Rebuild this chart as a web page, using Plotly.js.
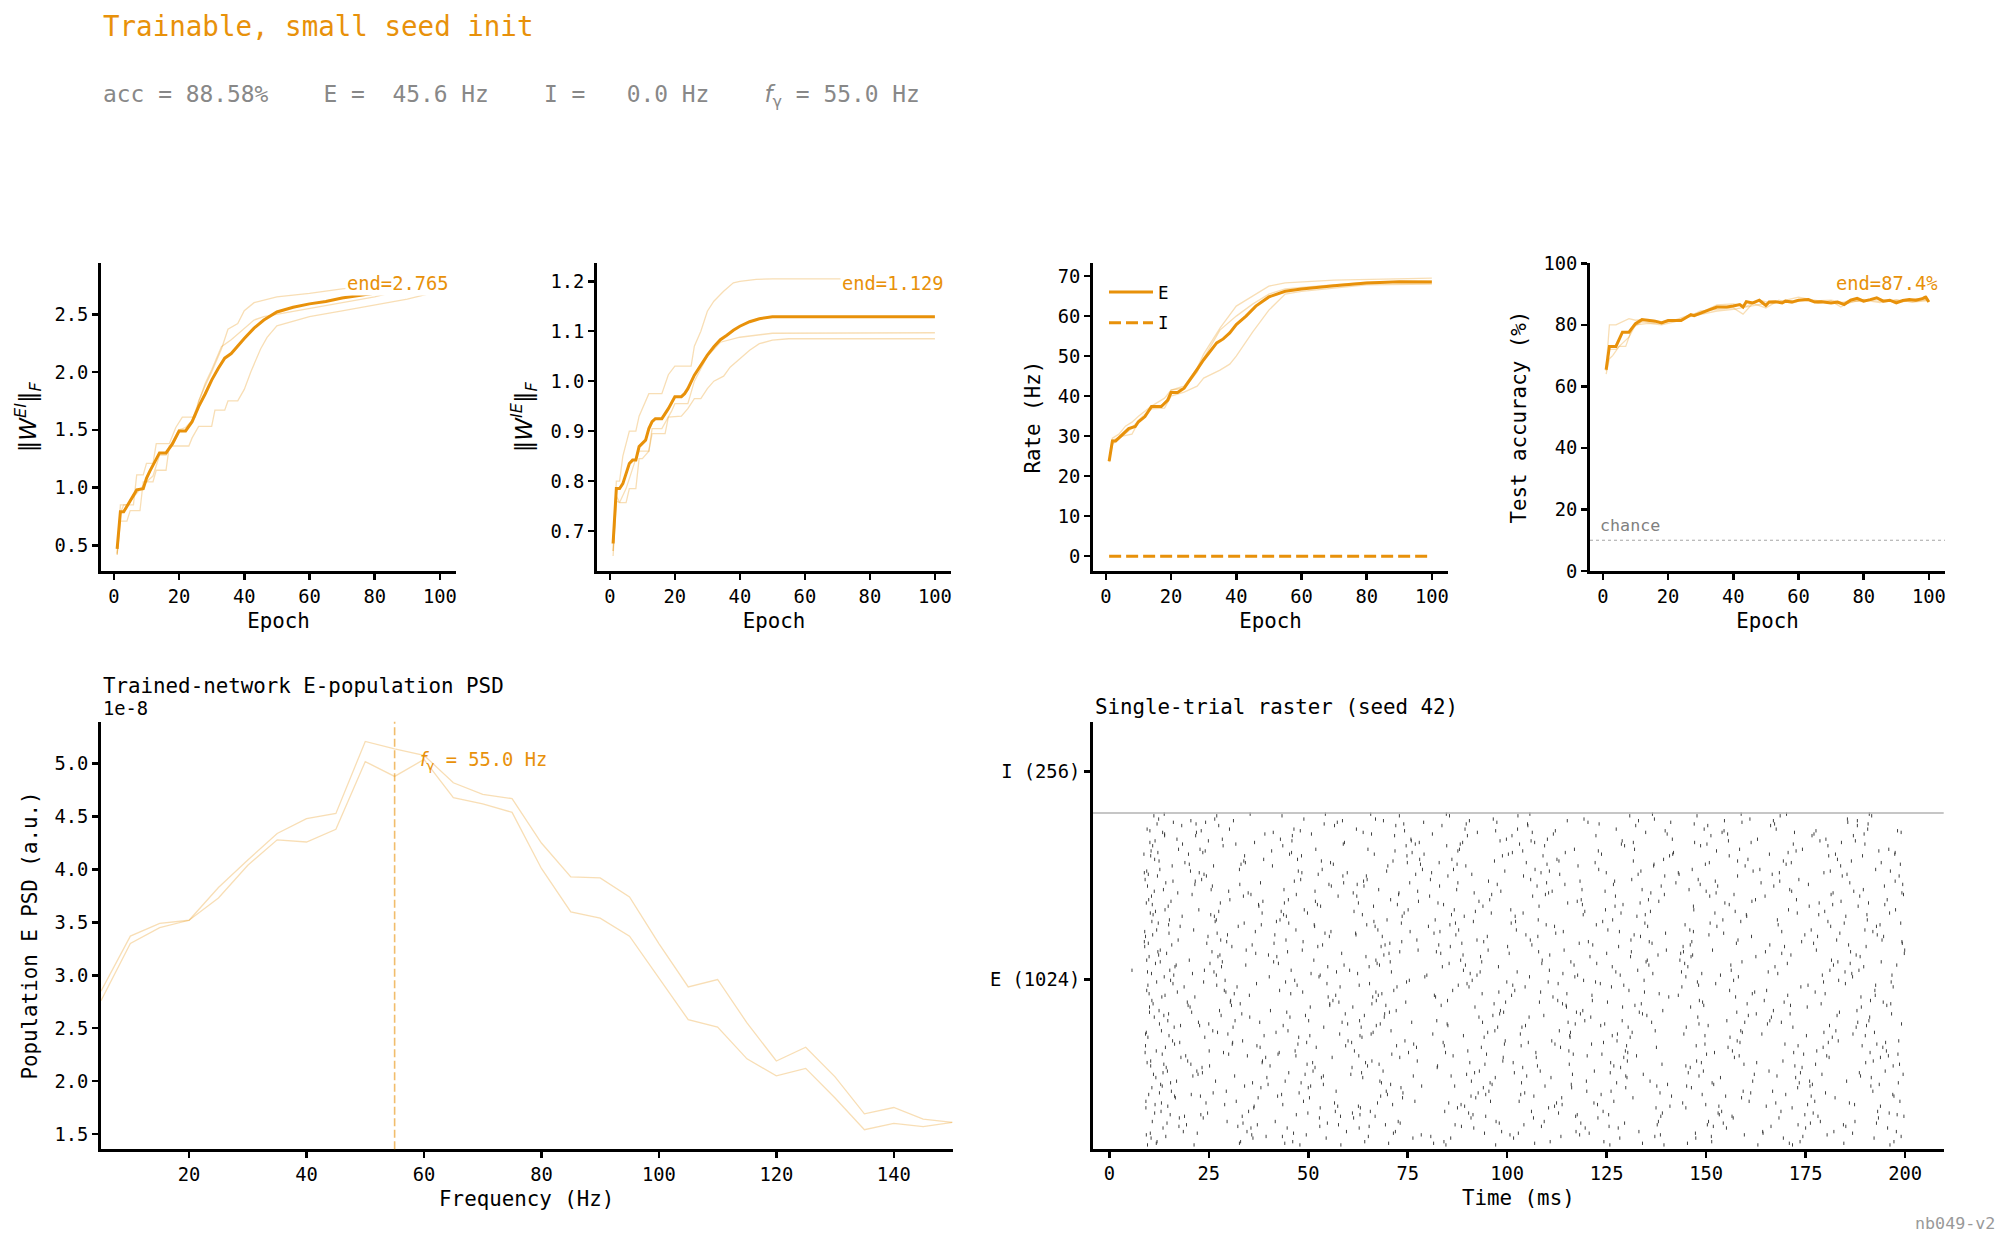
<!DOCTYPE html>
<html><head><meta charset="utf-8">
<script src="https://cdn.plot.ly/plotly-3.0.1.min.js"></script>
<style>html,body{margin:0;padding:0;background:#fff}#chart{width:2009px;height:1247px}</style>
</head><body><div id="chart"></div>
<script>
// ---------------- data ----------------
// Panel 1: ||W_EI||_F per epoch
const weiMeanX = [1,2,3,5,7,9,10,11,13,14,16,18,20,22,24,26,28,30,32,34,36,38,40,43,46,50,55,60,65,70,75,80,85,90,95,100];
const weiMeanY = [0.47,0.79,0.79,0.89,0.98,0.99,1.08,1.14,1.25,1.30,1.30,1.38,1.49,1.49,1.57,1.70,1.81,1.93,2.03,2.12,2.16,2.23,2.29,2.38,2.45,2.52,2.56,2.59,2.61,2.64,2.66,2.68,2.70,2.72,2.74,2.765];
const weiSeedAX = [1,2,3,6,7,9,10,12,13,17,19,21,25,26,28,30,33,35,38,40,43,46,50,60,70,80,90,100];
const weiSeedAY = [0.42,0.78,0.85,0.85,1.11,1.11,1.21,1.21,1.38,1.38,1.52,1.61,1.61,1.75,1.88,2.00,2.20,2.37,2.42,2.53,2.60,2.62,2.65,2.68,2.72,2.75,2.77,2.79];
const weiSeedBX = [1,2,4,6,8,10,12,14,16,18,20,22,24,26,28,30,33,36,40,43,46,50,55,60,70,80,90,100];
const weiSeedBY = [0.43,0.85,0.85,0.92,0.99,1.05,1.10,1.28,1.28,1.40,1.50,1.52,1.58,1.75,1.90,2.02,2.22,2.28,2.38,2.45,2.48,2.50,2.52,2.55,2.60,2.65,2.72,2.75];
const weiSeedCX = [1,2,4,5,8,9,12,13,16,17,23,24,26,30,31,34,35,38,40,42,45,47,50,55,60,70,80,90,100];
const weiSeedCY = [0.42,0.71,0.71,0.80,0.80,1.05,1.05,1.15,1.15,1.36,1.36,1.43,1.53,1.53,1.67,1.67,1.75,1.75,1.85,2.00,2.20,2.30,2.40,2.44,2.48,2.53,2.58,2.63,2.70];

// Panel 2: ||W_IE||_F per epoch
const wieMeanX = [1,2,3,4,6,7,8,9,11,12,13,14,16,17,18,20,22,23,24,26,28,30,32,34,36,38,40,43,46,50,100];
const wieMeanY = [0.675,0.785,0.785,0.795,0.835,0.842,0.842,0.869,0.882,0.905,0.919,0.925,0.925,0.935,0.945,0.969,0.969,0.975,0.985,1.012,1.032,1.052,1.069,1.083,1.092,1.102,1.110,1.119,1.125,1.129,1.129];
const wieSeedAX = [1,2,3,4,6,8,9,12,16,18,20,25,26,28,30,32,35,38,40,45,50,100];
const wieSeedAY = [0.66,0.80,0.80,0.85,0.90,0.90,0.93,0.975,0.975,1.013,1.03,1.03,1.07,1.10,1.14,1.16,1.18,1.197,1.20,1.204,1.205,1.205];
const wieSeedBX = [1,2,3,5,8,9,12,13,16,19,20,24,26,30,34,40,50,100];
const wieSeedBY = [0.66,0.77,0.757,0.785,0.845,0.86,0.86,0.905,0.905,0.94,0.955,0.955,1.00,1.05,1.078,1.088,1.096,1.097];
const wieSeedCX = [1,2,3,5,6,8,9,10,12,13,17,18,22,24,26,28,30,32,35,37,40,43,46,50,55,100];
const wieSeedCY = [0.65,0.76,0.757,0.757,0.785,0.785,0.845,0.845,0.86,0.895,0.895,0.928,0.93,0.945,0.965,0.965,0.985,1.0,1.01,1.028,1.045,1.062,1.075,1.082,1.085,1.085];

// Panel 3: firing rate (Hz)
const rateEX = [1,2,3,5,7,9,10,12,14,17,19,20,22,24,26,28,30,32,34,36,38,40,43,46,50,55,60,70,80,90,100];
const rateEY = [23.7,28.8,28.8,30.3,31.9,32.4,33.6,34.9,37.4,37.4,39.0,40.9,40.9,42.0,44.5,46.7,49.1,51.2,53.3,54.3,55.8,57.9,60.0,62.5,64.8,66.2,66.8,67.6,68.3,68.6,68.5];
const rateSeedAX = [1,2,4,6,8,10,14,18,20,24,28,30,35,40,45,50,55,70,100];
const rateSeedAY = [23.5,29.5,30.5,32.5,33.5,35.0,37.5,39.5,41.5,42.5,47.0,50.5,57.0,62.5,65.0,67.5,68.3,69.0,69.5];
const rateSeedBX = [1,2,5,8,10,14,18,20,24,28,30,35,40,45,50,55,60,80,100];
const rateSeedBY = [24.0,29.0,30.0,32.0,34.0,37.0,38.0,41.5,42.0,46.0,49.5,56.5,60.0,63.0,65.5,66.8,67.2,68.5,68.8];
const rateSeedCX = [1,2,5,8,10,14,18,20,24,28,30,35,38,40,45,50,55,60,80,100];
const rateSeedCY = [23.8,28.0,30.0,30.5,33.5,36.8,37.0,40.0,41.0,42.5,44.5,46.5,48.0,50.0,56.0,61.5,65.5,66.2,67.8,68.0];
const rateIX = [1,100];
const rateIY = [0,0];

// Panel 4: test accuracy (%)
const accX = [1,2,4,6,8,10,12,14,16,18,20,24,26,27,28,30,33,35,38,40,42,43,44,46,48,50,51,53,55,56,58,60,63,65,67,70,72,74,76,78,80,82,84,86,88,90,92,94,96,98,99,100];
const accY = [65.4,73.0,73.0,77.6,77.6,80.4,81.7,81.4,81.2,80.6,81.4,81.4,82.5,83.3,83.0,83.9,85.0,85.8,85.8,86.1,86.6,85.8,87.5,87.1,88.0,86.3,87.4,87.5,87.1,87.7,87.4,88.0,88.2,87.4,87.5,87.1,87.4,86.6,88.0,88.6,87.7,88.2,88.8,87.7,88.0,87.1,87.9,88.2,88.0,88.5,89.1,87.4];
const accSeedAX = [1,2,4,5,8,10,14,18,22,26,30,35,40,44,48,52,56,60,64,68,72,76,80,84,88,92,96,100];
const accSeedAY = [66,80,80,80.5,82,81.5,81.8,81,81.5,83,84,86.5,86.8,86,88,87,88,89,88.2,87.5,86.8,88,87.5,88.5,87.8,87.5,88.5,88];
const accSeedBX = [1,2,3,5,7,9,12,16,20,25,30,35,40,43,46,50,54,58,62,66,70,73,76,80,85,90,95,100];
const accSeedBY = [64,69,70,73,73,79,81,80.5,81,82,84.5,85,85.5,83.5,87,85.5,88,87,88.5,87,87.8,85.8,87.5,88,87.2,88,87.5,88.3];
const accSeedCX = [1,2,4,6,8,10,14,18,22,26,30,35,40,45,50,55,60,65,70,75,80,85,90,95,100];
const accSeedCY = [65,72,72,74,76,80,80.5,80,81,82.5,83.5,84.5,85,86,87,87.5,88,87.8,88,87,88.3,87.6,88.1,87.4,87.9];
const chanceLevel = 10;

// Panel 5: E-population PSD (units of 1e-8)
const psdFreq = [5,10,15,20,25,30,35,40,45,50,55,60,65,70,75,80,85,90,95,100,105,110,115,120,125,130,135,140,145,150];
const psdSeedA = [2.85,3.37,3.49,3.52,3.83,4.09,4.34,4.48,4.53,5.21,5.14,5.08,4.82,4.71,4.67,4.25,3.93,3.92,3.74,3.30,2.89,2.96,2.55,2.19,2.32,2.04,1.69,1.75,1.64,1.61];
const psdSeedB = [2.76,3.30,3.45,3.52,3.73,4.04,4.28,4.26,4.38,5.02,4.88,5.04,4.68,4.62,4.54,4.01,3.60,3.54,3.37,2.97,2.58,2.51,2.21,2.05,2.12,1.84,1.54,1.60,1.57,1.61];
const gammaPeakHz = 55.0;

// Panel 6: single-trial raster (subsampled E neurons; I population silent)
const rasterNeuronIds = [3,520,261,778,127,644,385,902,65,582,323,840,189,706,447,964,34,551,292,809,158,675,416,933,96,613,354,871,220,737,478,995,13,530,272,788,137,654,396,912,75,592,334,850,199,716,458,974,44,561,303,819,168,685,427,943,106,623,365,881,230,747,489,1005,24,540,282,799,148,664,406,923,86,602,344,861,210,726,468,985,55,571,313,830,179,695,437,954,117,633,375,892,241,757,499,1015,251,768,509];
const rasterSpikeTimes = [
[9.6,21.3,47.9,58.2,84.6,97.1,125.8,139.4,163.0,171.7,196.2],
[13.8,40.2,52.7,79.3,105.6,117.0,144.9,158.1,186.8],
[10.4,19.7,38.5,66.0,77.4,98.9,130.2,147.6,169.3,192.0],
[17.2,34.9,61.3,72.8,91.7,110.4,136.1,152.5,181.9,199.2],
[11.5,29.0,43.6,71.2,88.4,113.8,122.7,149.9,175.5,187.3],
[9.1,24.8,55.3,68.6,95.0,107.7,133.5,161.4,178.0,194.6],
[14.7,31.6,50.1,62.9,82.3,119.5,128.9,155.2,166.0,190.9],
[12.2,23.5,45.8,76.1,101.3,114.6,141.8,170.6,197.5],
[19.4,37.2,57.6,69.4,86.9,104.2,137.7,150.3,173.1,184.5],
[10.0,27.3,42.1,64.5,93.3,120.8,131.0,146.2,162.5,188.7],
[15.9,33.5,60.0,74.3,99.5,111.2,127.6,157.8,183.2,198.4],
[8.8,22.6,48.4,59.8,81.0,108.5,124.9,143.0,168.4,179.6],
[12.9,39.9,53.8,70.7,96.2,116.1,140.3,151.9,176.7,193.5],
[18.3,26.4,44.5,73.6,89.2,102.0,132.6,160.2,185.1],
[10.7,30.5,56.2,67.1,85.0,112.7,121.4,148.3,164.6,191.3],
[13.4,21.9,41.2,63.8,92.5,106.3,134.8,154.0,172.2,199.0],
[9.3,35.8,49.5,78.4,100.7,118.2,138.5,159.6,180.4],
[16.5,28.2,54.9,65.3,83.7,97.8,126.4,145.4,167.3,189.6],
[11.8,25.1,46.7,61.6,90.1,115.5,129.7,156.6,177.8,195.3],
[14.2,38.0,58.9,75.5,87.6,109.9,142.4,163.8,186.1],
[9.9,20.6,43.3,69.9,94.6,103.4,123.6,149.0,170.0,196.9],
[17.8,32.4,51.6,66.8,80.2,111.9,135.3,152.7,181.3,192.8],
[12.5,27.7,40.5,72.1,98.3,119.0,139.1,166.9,187.9],
[10.2,36.5,59.1,77.9,88.8,106.9,131.7,147.1,161.3,184.0],
[15.3,23.0,47.0,63.0,91.4,117.6,125.5,153.3,174.8,198.0],
[8.9,30.8,52.4,68.3,85.7,100.1,128.0,144.2,169.7,190.2],
[13.1,26.0,44.9,70.8,96.9,113.1,137.2,158.7,182.6],
[19.0,34.2,55.6,74.9,82.9,104.8,122.1,150.8,171.4,194.0],
[11.1,22.3,49.2,60.7,89.8,116.4,134.2,162.1,179.1,199.5],
[14.8,37.6,53.1,66.4,93.9,108.0,127.1,146.8,175.9,188.2],
[9.4,28.9,42.8,71.5,86.3,101.9,130.6,155.9,165.2,192.4],
[16.1,24.2,57.3,79.0,97.4,120.3,141.1,159.0,185.6],
[12.0,33.0,46.1,64.2,84.1,110.8,124.3,151.4,173.6,197.2],
[10.6,20.9,50.7,62.4,90.7,114.0,136.6,148.9,168.0,186.6],
[18.0,39.3,56.0,73.0,99.0,107.3,129.3,157.1,180.9,193.8],
[13.6,25.6,43.9,67.7,87.3,118.8,133.9,145.7,171.0,189.5],
[9.2,31.9,48.8,76.8,95.8,103.0,126.8,160.8,177.3,198.7],
[15.0,27.1,54.2,61.9,81.6,112.2,139.8,154.4,183.6],
[11.3,35.3,45.4,69.1,92.9,105.5,121.0,147.9,166.4,191.1],
[17.4,22.8,51.9,65.0,88.0,116.9,132.0,158.4,174.2,195.9],
[10.8,29.6,41.7,72.6,97.2,109.3,138.0,150.6,178.7,187.4],
[14.4,36.8,58.4,70.3,83.3,100.5,125.0,143.6,169.0,199.8],
[9.7,24.0,47.6,63.5,94.2,115.8,130.9,156.0,181.7],
[12.7,32.7,53.5,78.7,86.5,107.0,123.0,146.5,163.5,192.6],
[16.9,26.7,44.2,68.0,91.0,119.9,135.9,161.7,176.0,185.3],
[10.3,38.4,49.8,74.1,96.0,104.0,128.6,152.2,172.9,196.1],
[13.2,21.5,55.0,66.2,82.0,111.5,140.6,157.4,188.9],
[9.5,30.2,46.4,62.1,89.4,102.6,127.4,149.5,167.6,190.6],
[18.6,34.6,59.6,71.9,98.6,117.3,133.1,164.2,182.1,197.8],
[11.6,25.3,42.5,67.3,85.4,108.7,122.5,144.6,170.4,186.2],
[14.1,37.9,52.0,77.2,93.5,113.4,137.5,155.5,179.4,194.4],
[9.0,23.2,48.1,64.8,80.7,105.9,131.3,148.0,173.3],
[15.6,29.4,57.0,69.6,95.4,120.0,126.1,159.3,166.7,191.9],
[12.3,33.9,45.1,73.4,87.0,101.0,134.6,151.0,184.7,198.9],
[10.1,20.3,50.5,61.2,91.9,114.9,129.0,146.1,175.4,189.0],
[17.0,28.4,43.0,75.8,99.8,110.1,141.5,162.9,180.1],
[13.0,35.0,56.8,65.6,84.3,106.1,124.1,153.9,168.8,193.1],
[9.8,24.5,41.4,70.5,88.6,118.1,136.4,157.6,177.0,199.3],
[16.3,31.1,53.9,63.3,97.6,103.7,130.4,145.0,171.8,187.7],
[11.4,38.8,47.3,78.0,86.1,112.5,139.3,160.5,183.0],
[14.6,22.0,51.2,68.8,93.0,108.3,121.9,149.3,165.8,195.0],
[9.3,27.9,44.0,62.6,82.6,115.2,133.4,154.7,178.4,190.8],
[18.8,32.1,58.0,72.3,90.4,104.5,126.2,143.9,173.8,197.0],
[12.4,26.5,48.9,66.9,96.5,119.3,137.0,161.0,185.5],
[10.5,36.1,54.5,76.3,85.8,101.6,128.3,147.4,169.4,192.2],
[5.7,15.2,23.9,45.7,60.4,89.0,110.6,132.8,156.3,181.1,188.4],
[13.3,30.0,42.4,71.0,94.8,116.6,123.8,150.1,174.5,198.2],
[9.6,25.9,55.8,64.0,83.0,107.5,138.7,152.9,167.0,194.8],
[16.6,37.4,50.3,73.7,92.1,113.7,131.6,158.9,182.4],
[11.9,21.2,46.9,67.5,87.8,102.3,125.3,145.9,176.4,189.9],
[14.9,33.3,59.3,69.2,98.1,118.4,134.0,162.6,171.1,196.6],
[10.9,28.6,43.6,74.6,84.8,109.4,129.5,148.6,180.6],
[17.6,23.6,52.8,61.4,90.9,106.6,122.8,156.8,168.3,193.3],
[12.8,34.4,48.5,77.6,95.2,114.3,140.0,151.6,177.7,199.9],
[9.1,29.8,57.9,65.8,81.3,103.3,127.7,144.4,164.0,186.9],
[15.8,26.2,41.0,70.0,89.6,117.8,136.8,159.8,183.8],
[11.7,39.6,53.3,63.7,97.0,111.0,130.1,153.6,172.5,191.5],
[14.0,22.5,49.0,75.1,86.7,100.9,124.7,146.9,170.7,197.6],
[10.0,31.4,45.6,68.5,93.7,115.0,138.2,161.6,179.9],
[18.2,27.5,56.6,72.0,83.6,105.2,132.3,150.4,166.2,188.0],
[13.5,35.6,44.7,62.8,91.6,119.6,127.9,155.1,175.0,195.6],
[9.4,20.1,51.4,67.0,88.3,108.8,135.2,143.4,181.5],
[16.4,30.9,47.4,76.5,99.3,112.0,121.2,149.7,169.8,192.9],
[12.1,24.4,58.7,64.6,85.1,104.1,139.6,157.9,184.2,198.5],
[10.7,38.1,50.0,73.3,94.0,116.2,129.8,146.3,173.0],
[15.1,26.9,42.9,69.8,81.9,107.8,126.5,154.2,167.9,190.5],
[11.0,32.9,55.4,66.0,96.7,113.9,133.7,160.3,178.9,196.4],
[13.9,21.7,46.0,71.7,90.0,101.2,122.3,151.2,176.6,187.0],
[9.2,36.3,53.0,63.1,87.5,110.4,137.4,144.9,171.6],
[17.3,28.0,44.4,77.3,92.4,105.8,131.1,158.0,182.8,194.2],
[12.6,25.0,59.9,68.1,84.9,117.1,124.5,148.2,165.4,199.1],
[10.4,34.0,48.3,74.8,98.8,109.0,140.8,155.8,180.8,189.3],
[14.3,23.3,51.7,61.0,82.4,103.9,128.5,146.0,174.1],
[9.9,30.3,45.0,70.7,95.6,118.6,135.5,162.4,172.7,195.5],
[16.0,37.0,54.7,65.4,89.9,112.8,123.4,152.4,185.0],
[11.2,27.0,43.4,72.9,85.5,102.7,130.8,147.7,168.6,191.6],
[13.7,20.5,49.7,67.8,94.4,115.6,138.9,159.5,177.5,198.6],
[10.6,33.7,57.5,62.2,80.5,106.4,127.2,150.9,164.8,188.6],
[15.4,29.1,46.6,75.4,91.2,119.2,134.4,156.9,183.3]
];
// second batch of sampled E neurons
const rasterNeuronIdsB = [8,525,256,773,132,649,380,897,70,587,318,835,194,711,442,959,39,556,287,804,163,680,411,928,101,618,349,866,225,742,473,990,29,535,277,783,153,659,401,907,91,597,339,845,215,721,463,969,60,566,308,814,184,690,432,938,122,628,370,876,246,752,494,1000,504,1020];
const rasterSpikeTimesB = [
[11.8,32.7,44.1,70.2,81.5,106.9,134.0,145.3,170.9,184.6],
[16.2,26.9,53.0,79.8,92.4,117.7,128.4,153.6,179.2,196.7],
[9.5,38.4,51.1,64.4,90.6,101.5,126.0,148.8,162.7,190.1],
[20.8,35.6,47.0,72.7,96.1,109.6,139.5,157.0,181.4,199.6],
[13.1,24.3,56.6,67.4,85.3,112.4,121.8,144.1,167.5,186.0],
[10.9,29.7,41.6,62.0,87.1,104.7,131.9,150.7,174.8,193.0],
[22.4,37.8,58.5,76.0,93.8,115.3,136.3,159.7,168.9,188.1],
[8.7,19.9,45.3,66.6,79.1,100.3,123.7,141.6,165.9,182.5,197.4],
[14.5,33.6,54.8,73.1,98.0,118.5,129.5,154.3,176.2,192.8],
[12.4,27.8,40.0,69.0,88.9,110.7,137.9,146.6,171.3,187.7],
[17.7,31.0,49.6,60.9,83.9,105.3,124.2,158.5,180.7,195.1],
[9.8,23.8,52.5,77.0,91.1,113.2,132.9,143.2,166.6,185.4],
[15.4,36.0,48.2,68.4,95.7,103.6,127.5,151.5,173.4,198.3],
[11.0,25.5,43.8,63.6,86.0,119.1,134.7,160.1,178.3,190.4],
[19.6,30.4,57.7,74.5,99.6,108.1,125.2,149.1,169.6,194.5],
[13.9,39.1,50.8,65.9,81.2,111.6,140.2,155.4,177.1,189.7],
[10.3,22.1,46.3,71.4,94.3,102.8,120.6,147.3,164.3,186.8],
[16.8,34.3,59.0,67.9,89.5,116.8,135.6,156.2,182.0,197.9],
[9.0,28.7,42.7,75.2,84.5,107.2,130.3,152.1,172.0,191.2],
[21.5,32.8,55.2,62.3,97.5,114.5,126.7,148.5,175.7,199.4],
[12.6,26.1,47.7,73.8,92.7,104.4,138.4,161.2,180.0],
[14.9,38.2,51.5,64.7,85.6,109.8,122.4,144.7,168.1,193.7],
[10.1,20.7,44.6,70.4,99.1,117.4,133.2,157.7,183.5],
[18.4,31.8,58.8,76.9,88.2,103.1,128.7,150.2,171.9,189.9],
[11.4,24.7,49.9,61.1,90.3,112.9,139.0,153.0,176.9,196.0],
[15.7,35.9,53.6,69.3,82.8,106.2,121.5,146.0,166.0,185.8],
[9.3,27.2,41.9,66.3,95.1,115.9,131.4,159.1,179.6,192.3],
[20.1,33.1,56.3,78.2,87.4,110.0,136.9,149.8,170.1,198.8],
[13.5,23.4,45.1,63.4,91.8,101.8,125.9,145.5,173.7,188.5],
[10.8,37.5,52.3,72.4,84.0,118.9,129.1,155.8,181.8,194.9],
[17.1,29.3,48.6,67.0,97.9,108.4,134.5,162.2,177.4],
[12.0,21.8,54.0,74.0,89.7,105.1,123.1,147.0,167.2,190.7],
[14.2,39.4,43.5,65.1,80.8,113.5,137.1,151.3,174.3,199.0],
[9.6,26.3,57.1,70.9,93.2,102.5,127.3,143.8,165.6,184.9],
[19.2,34.7,46.9,62.7,86.4,120.1,132.5,158.3,180.3,195.8],
[11.3,30.0,51.7,77.5,98.4,111.3,124.6,150.0,171.5,187.1],
[16.4,22.9,42.3,68.2,90.9,106.7,141.3,154.9,176.4,197.2],
[8.9,36.7,55.7,75.6,83.1,114.1,128.2,146.8,169.0,191.9],
[13.7,28.1,49.3,64.1,96.4,109.2,135.1,160.6,182.9],
[10.5,24.1,40.8,71.8,87.6,103.9,122.9,152.6,172.6,193.4],
[18.9,33.4,58.1,66.8,94.6,117.2,138.6,156.5,178.1,199.7],
[12.2,25.8,44.8,73.0,82.2,107.9,131.2,144.3,164.9,186.3],
[15.0,38.9,50.4,63.0,89.0,115.7,126.4,149.7,175.2,190.0],
[9.4,20.4,47.5,69.7,99.4,110.6,133.6,161.8,181.2,196.3],
[21.0,31.5,53.8,76.4,85.9,104.9,129.8,148.2,167.8,188.8],
[11.6,27.5,43.2,61.5,92.0,119.5,136.0,157.3,179.8],
[14.0,35.2,56.9,67.6,81.7,101.1,121.3,143.0,170.5,192.5],
[10.2,23.1,48.0,74.2,97.1,112.1,139.7,154.5,177.6,198.1],
[17.5,32.3,52.9,65.3,88.5,108.6,125.6,151.8,166.3,185.1],
[12.8,28.4,41.3,70.6,93.6,116.0,134.9,159.0,183.1,194.0],
[9.1,37.1,59.4,72.2,84.2,103.5,130.0,147.5,173.1,189.2],
[16.0,21.6,46.5,63.9,95.3,118.3,127.0,152.3,168.5,197.5],
[13.3,34.0,50.6,78.5,86.8,109.5,137.6,145.1,176.1,191.4],
[10.7,26.6,42.0,66.5,91.5,102.1,124.0,158.7,180.6],
[19.8,30.7,55.4,69.5,83.4,114.8,132.1,149.4,171.2,195.4],
[11.5,24.9,45.9,75.9,98.2,106.0,128.9,155.6,178.6,187.5],
[14.7,36.4,57.4,62.6,89.3,111.9,140.9,153.2,165.1,193.8],
[8.8,29.5,48.7,73.5,94.1,120.4,135.7,146.4,174.0,199.2],
[17.9,22.7,43.7,67.1,85.1,104.6,123.5,150.5,181.0,190.3],
[12.5,33.8,53.3,71.3,96.8,113.0,131.7,157.9,169.4,186.5],
[10.4,25.2,40.4,64.9,82.5,107.6,126.8,144.9,172.3,197.0],
[15.5,38.6,51.8,77.7,92.9,117.6,138.1,161.5,183.9],
[9.7,27.0,47.2,62.8,87.7,101.4,129.3,148.1,175.6,192.6],
[20.5,31.2,58.6,68.9,90.5,115.1,133.0,154.6,166.9,188.0],
[11.9,23.7,44.3,74.7,99.9,110.3,122.2,147.8,179.5,196.5],
[13.8,35.4,54.3,65.7,84.7,105.7,136.5,158.8,170.2,191.0]
];
const nE = 1024, nI = 256;
const popTickVals = [nE / 2, nE + nI / 2];
const popTickText = ['E (1024)', 'I (256)'];

// ---------------- style ----------------
const ORANGE = '#E8910A';
const FAINT = 'rgba(232,145,10,0.30)';
const MONO = 'DejaVu Sans Mono, monospace';
const TICK = 18.75, LAB = 20.8, SMALL = 16.7;

function faint(x, y, xa, ya) {
  return {x, y, xaxis: xa, yaxis: ya, type: 'scatter', mode: 'lines', showlegend: false,
          hoverinfo: 'skip', line: {color: FAINT, width: 1.3}};
}
function thick(x, y, xa, ya, extra) {
  return Object.assign({x, y, xaxis: xa, yaxis: ya, type: 'scatter', mode: 'lines', showlegend: false,
          line: {color: ORANGE, width: 3}}, extra || {});
}

const rx = [], ry = [];
rasterSpikeTimes.forEach((row, i) => row.forEach(t => { rx.push(t); ry.push(rasterNeuronIds[i]); }));
rasterSpikeTimesB.forEach((row, i) => row.forEach(t => { rx.push(t); ry.push(rasterNeuronIdsB[i]); }));

const traces = [
  faint(weiSeedAX, weiSeedAY, 'x', 'y'), faint(weiSeedBX, weiSeedBY, 'x', 'y'), faint(weiSeedCX, weiSeedCY, 'x', 'y'),
  thick(weiMeanX, weiMeanY, 'x', 'y'),
  faint(wieSeedAX, wieSeedAY, 'x2', 'y2'), faint(wieSeedBX, wieSeedBY, 'x2', 'y2'), faint(wieSeedCX, wieSeedCY, 'x2', 'y2'),
  thick(wieMeanX, wieMeanY, 'x2', 'y2'),
  faint(rateSeedAX, rateSeedAY, 'x3', 'y3'), faint(rateSeedBX, rateSeedBY, 'x3', 'y3'), faint(rateSeedCX, rateSeedCY, 'x3', 'y3'),
  thick(rateEX, rateEY, 'x3', 'y3', {name: 'E', showlegend: true, legendgroup: 'E'}),
  thick(rateIX, rateIY, 'x3', 'y3', {name: 'I', showlegend: true, legendgroup: 'I', line: {color: ORANGE, width: 3, dash: '12px,5px'}}),
  faint(accSeedAX, accSeedAY, 'x4', 'y4'), faint(accSeedBX, accSeedBY, 'x4', 'y4'), faint(accSeedCX, accSeedCY, 'x4', 'y4'),
  thick(accX, accY, 'x4', 'y4'),
  faint(psdFreq, psdSeedA, 'x5', 'y5'), faint(psdFreq, psdSeedB, 'x5', 'y5'),
  {x: rx, y: ry, xaxis: 'x6', yaxis: 'y6', type: 'scatter', mode: 'markers', showlegend: false, hoverinfo: 'skip',
   marker: {symbol: 'line-ns', size: 2.4, color: '#2a2a2a', line: {width: 0.9, color: '#2a2a2a'}}}
];

function ax(domain, anchor, range, extra) {
  return Object.assign({
    domain, anchor, range, showline: true, linecolor: '#000', linewidth: 3,
    ticks: 'outside', ticklen: 6, tickwidth: 2.5, tickcolor: '#000',
    showgrid: false, zeroline: false, automargin: false,
    tickfont: {family: MONO, size: TICK, color: '#000'}
  }, extra || {});
}
function xt(text) { return {text, font: {family: MONO, size: LAB, color: '#000'}, standoff: 8}; }
function yt(text, size) { return {text, font: {family: MONO, size: size || LAB, color: '#000'}, standoff: 12}; }
const mathSans = s => '<span style="font-family:DejaVu Sans">' + s + '</span>';

const W = 2009, H = 1247;
const px = v => v / W, py = v => 1 - v / H;
const topY = [py(571), py(263.3)];
const epochRange = [-3.95, 104.95];
const epochTicks = {tickmode: 'array', tickvals: [0,20,40,60,80,100]};

const nb = s => s.replace(/ /g, '\u00a0');
const subtitle = nb('acc = 88.58%    E =  45.6 Hz    I =   0.0 Hz    ') + mathSans('<i>f</i><sub>γ</sub>') + nb(' = 55.0 Hz');

const layout = {
  width: W, height: H, margin: {l: 0, r: 0, t: 0, b: 0},
  paper_bgcolor: '#fff', plot_bgcolor: '#fff',
  font: {family: MONO, color: '#000'},
  showlegend: true,
  legend: {x: px(1104), y: py(274), xanchor: 'left', yanchor: 'top', bgcolor: 'rgba(0,0,0,0)', itemwidth: 44,
           font: {family: MONO, size: 17.5, color: '#000'}, traceorder: 'grouped', tracegroupgap: 5},
  xaxis:  ax([px(101), px(456)], 'y', epochRange, Object.assign({title: xt('Epoch')}, epochTicks)),
  yaxis:  ax(topY, 'x', [0.278, 2.941], {title: yt(mathSans('‖<i>W</i><sup><i>EI</i></sup>‖<sub><i>F</i></sub>'), 23), tickmode: 'array', tickvals: [0.5,1.0,1.5,2.0,2.5], tickformat: '.1f'}),
  xaxis2: ax([px(597), px(951)], 'y2', epochRange, Object.assign({title: xt('Epoch')}, epochTicks)),
  yaxis2: ax(topY, 'x2', [0.62, 1.236], {title: yt(mathSans('‖<i>W</i><sup><i>IE</i></sup>‖<sub><i>F</i></sub>'), 23), tickmode: 'array', tickvals: [0.7,0.8,0.9,1.0,1.1,1.2], tickformat: '.1f'}),
  xaxis3: ax([px(1093), px(1448)], 'y3', epochRange, Object.assign({title: xt('Epoch')}, epochTicks)),
  yaxis3: ax(topY, 'x3', [-3.7, 73.2], {title: yt('Rate (Hz)'), tickmode: 'array', tickvals: [0,10,20,30,40,50,60,70]}),
  xaxis4: ax([px(1590), px(1945)], 'y4', epochRange, Object.assign({title: xt('Epoch')}, epochTicks)),
  yaxis4: ax(topY, 'x4', [0, 100], {title: yt('Test accuracy (%)'), tickmode: 'array', tickvals: [0,20,40,60,80,100]}),
  xaxis5: ax([px(101), px(952.5)], 'y5', [5, 150], {title: xt('Frequency (Hz)'), tickmode: 'array', tickvals: [20,40,60,80,100,120,140]}),
  yaxis5: ax([py(1149.3), py(721.7)], 'x5', [1.355, 5.397], {title: yt('Population E PSD (a.u.)'), tickmode: 'array', tickvals: [1.5,2.0,2.5,3.0,3.5,4.0,4.5,5.0], tickformat: '.1f'}),
  xaxis6: ax([px(1093), px(1943.7)], 'y6', [-4.1, 209.7], {title: xt('Time (ms)'), tickmode: 'array', tickvals: [0,25,50,75,100,125,150,175,200]}),
  yaxis6: ax([py(1148.5), py(721.5)], 'x6', [-8, 1305], {tickmode: 'array', tickvals: popTickVals, ticktext: popTickText}),
  shapes: [
    {type: 'line', xref: 'x4 domain', x0: 0, x1: 1, yref: 'y4', y0: chanceLevel, y1: chanceLevel,
     line: {color: 'rgba(128,128,128,0.7)', width: 1.2, dash: 'dot'}},
    {type: 'line', xref: 'x5', x0: gammaPeakHz, x1: gammaPeakHz, yref: 'y5 domain', y0: 0, y1: 1,
     line: {color: 'rgba(232,145,10,0.6)', width: 1.6, dash: '8px,3.5px'}},
    {type: 'line', xref: 'x6 domain', x0: 0, x1: 1, yref: 'y6', y0: nE, y1: nE,
     line: {color: '#b3b3b3', width: 1.5}}
  ],
  annotations: [
    {text: 'Trainable, small seed init', xref: 'paper', yref: 'paper', x: px(101), y: py(26), xanchor: 'left', yanchor: 'middle',
     showarrow: false, font: {family: MONO, size: 27.5, color: ORANGE}},
    {text: subtitle, xref: 'paper', yref: 'paper', x: px(101), y: py(96), xanchor: 'left', yanchor: 'middle',
     showarrow: false, font: {family: MONO, size: 22.9, color: '#888'}},
    {text: 'end=2.765', xref: 'x domain', yref: 'y domain', x: 0.985, y: 0.935, xanchor: 'right', yanchor: 'middle',
     showarrow: false, bgcolor: '#fff', font: {family: MONO, size: TICK, color: ORANGE}},
    {text: 'end=1.129', xref: 'x2 domain', yref: 'y2 domain', x: 0.987, y: 0.935, xanchor: 'right', yanchor: 'middle',
     showarrow: false, bgcolor: '#fff', font: {family: MONO, size: TICK, color: ORANGE}},
    {text: 'end=87.4%', xref: 'x4 domain', yref: 'y4 domain', x: 0.985, y: 0.935, xanchor: 'right', yanchor: 'middle',
     showarrow: false, bgcolor: '#fff', font: {family: MONO, size: TICK, color: ORANGE}},
    {text: 'chance', xref: 'x4', yref: 'y4', x: -1.4, y: 15, xanchor: 'left', yanchor: 'middle',
     showarrow: false, font: {family: MONO, size: SMALL, color: '#808080'}},
    {text: 'Trained-network E-population PSD', xref: 'paper', yref: 'paper', x: px(101), y: py(685.5), xanchor: 'left', yanchor: 'middle',
     showarrow: false, font: {family: MONO, size: LAB, color: '#000'}},
    {text: '1e-8', xref: 'paper', yref: 'paper', x: px(101), y: py(708), xanchor: 'left', yanchor: 'middle',
     showarrow: false, font: {family: MONO, size: TICK, color: '#000'}},
    {text: mathSans('<i>f</i><sub>γ</sub>') + nb(' = 55.0 Hz'), xref: 'x5', yref: 'y5', x: 59, y: 5.03, xanchor: 'left', yanchor: 'middle',
     showarrow: false, font: {family: MONO, size: TICK, color: ORANGE}},
    {text: 'Single-trial raster (seed 42)', xref: 'paper', yref: 'paper', x: px(1093), y: py(707), xanchor: 'left', yanchor: 'middle',
     showarrow: false, font: {family: MONO, size: LAB, color: '#000'}},
    {text: 'nb049-v2', xref: 'paper', yref: 'paper', x: px(1997), y: py(1223), xanchor: 'right', yanchor: 'middle',
     showarrow: false, font: {family: MONO, size: SMALL, color: '#999'}}
  ]
};

Plotly.newPlot('chart', traces, layout, {staticPlot: true, displayModeBar: false});
</script></body></html>
